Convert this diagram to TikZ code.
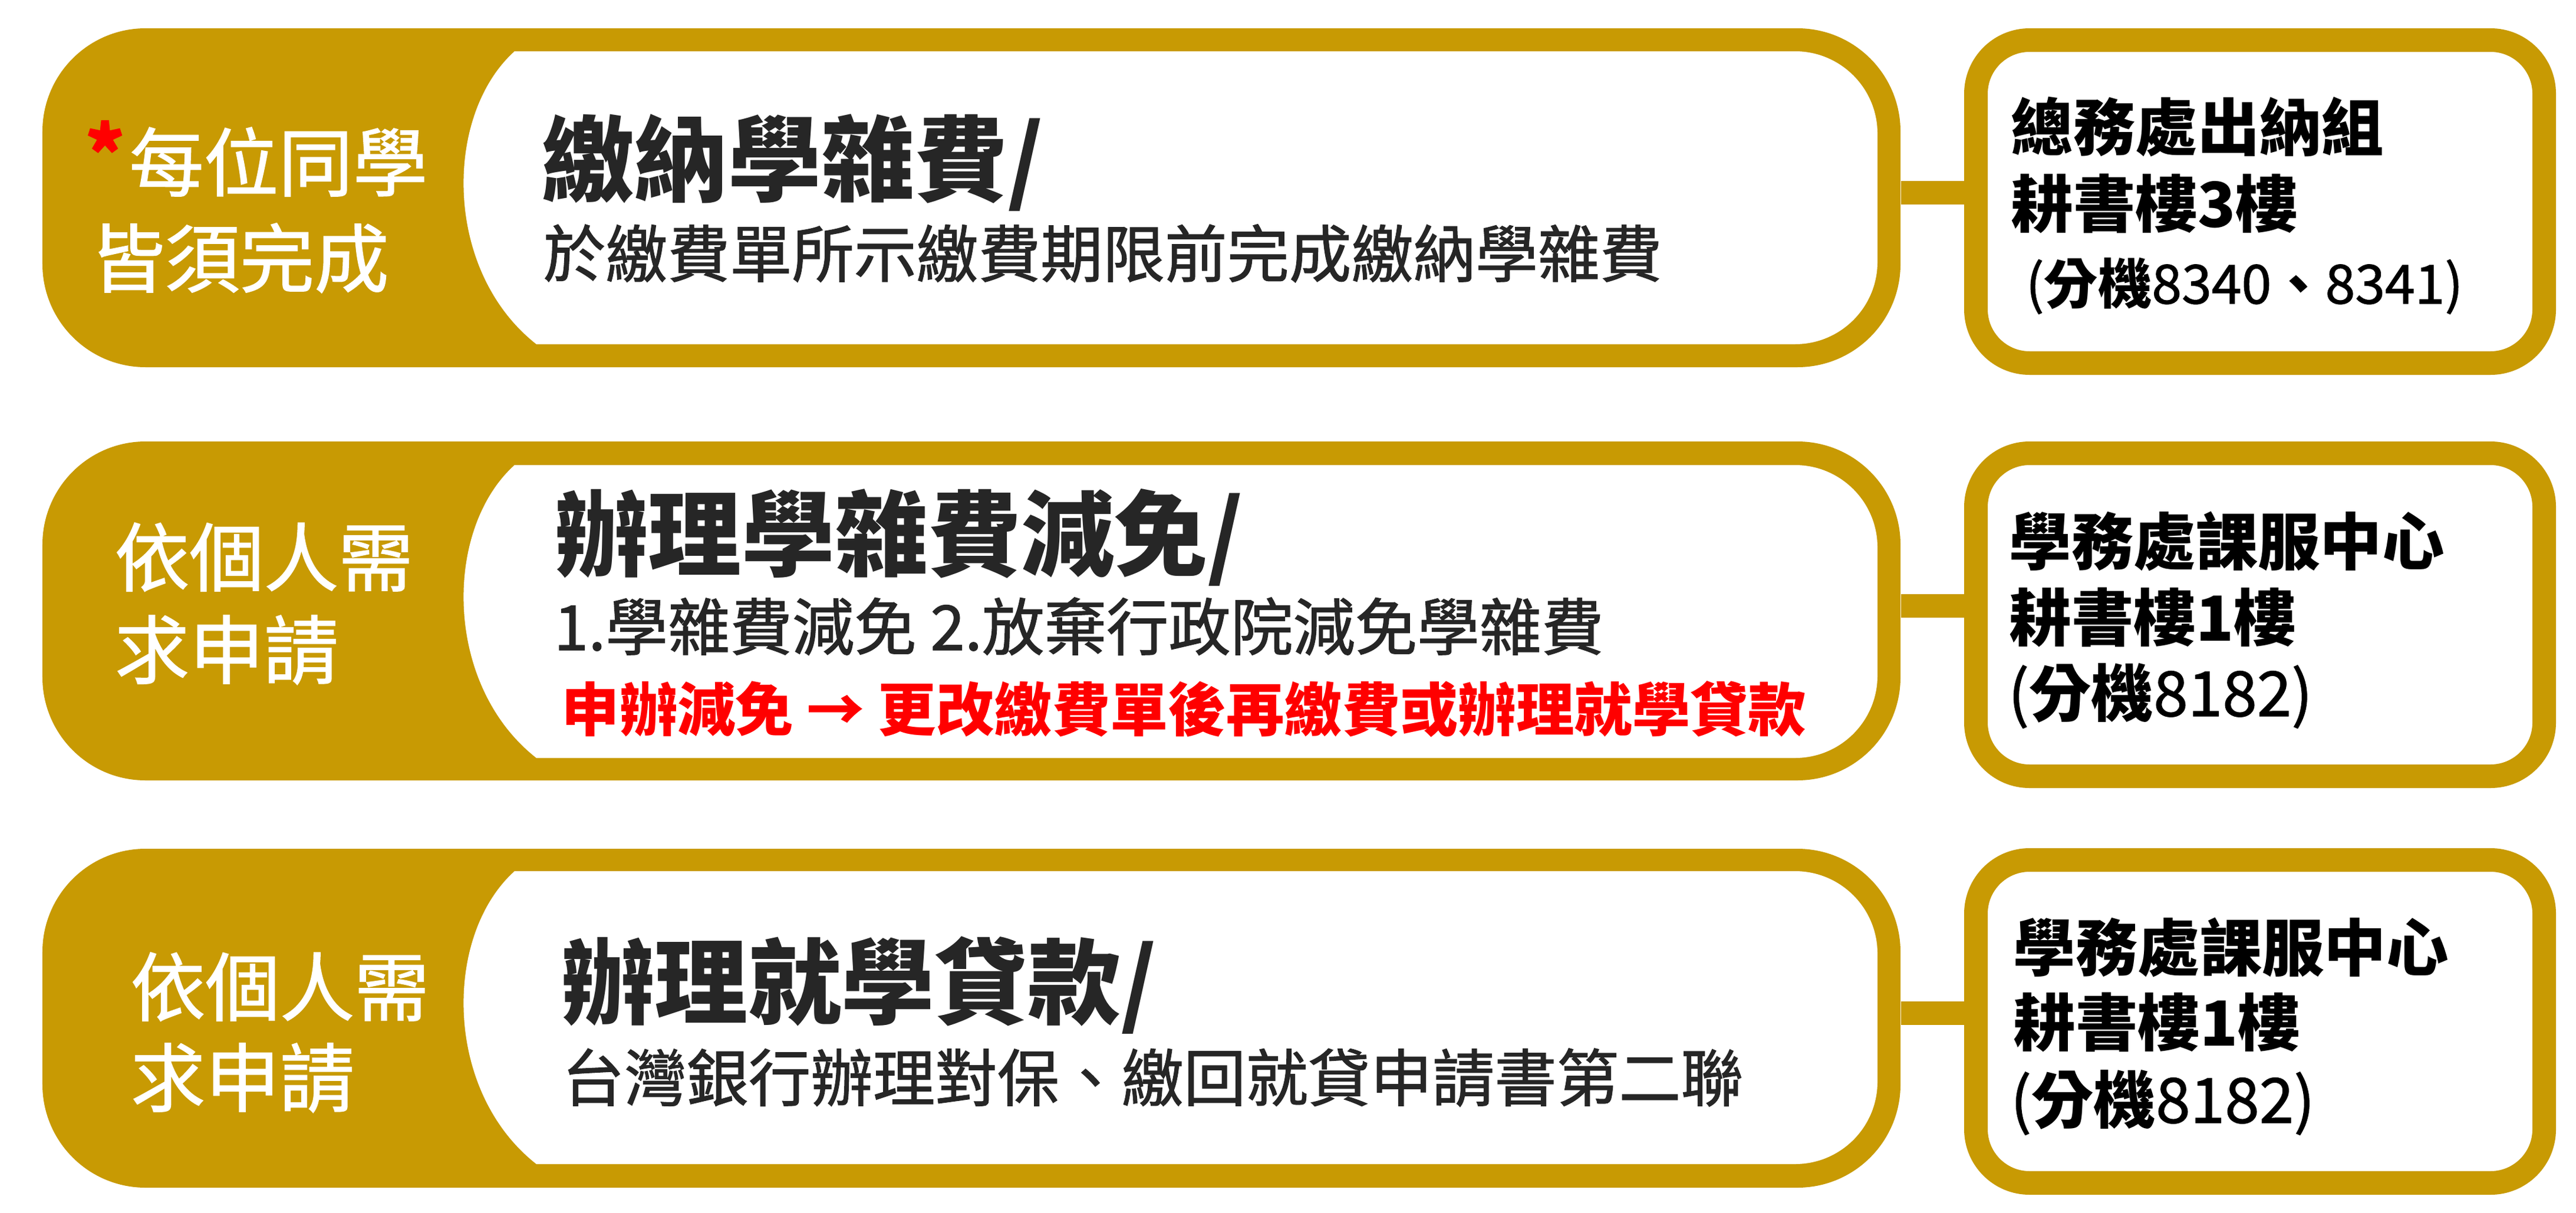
\documentclass[tikz,border=0pt]{standalone}
\usepackage{fontspec}
\setmainfont{Noto Sans CJK TC}
\newfontfamily\medfont[FakeBold=1.2]{Noto Sans CJK TC}
\newcommand{\num}[1]{{\medfont\mdseries #1}}
\definecolor{gold}{RGB}{200,154,3}
\definecolor{ink}{RGB}{38,38,38}

\begin{document}
\begin{tikzpicture}[x=1cm, y=-1cm,
    goldbar/.style={rectangle, rounded corners=1.75cm, fill=gold, minimum width=31.52cm, minimum height=5.75cm},
    infobox/.style={rectangle, rounded corners=0.91cm, draw=gold, line width=0.4cm, fill=white, minimum width=9.64cm, minimum height=5.48cm},
    goldlink/.style={draw=gold, line width=0.4cm},
    txt/.style={inner sep=0pt, anchor=base west},
    labtext/.style={txt, text=white, font=\fontsize{36}{36}\medfont},
    headtext/.style={txt, text=ink, font=\fontsize{45}{45}\selectfont\bfseries},
    subtext/.style={txt, text=ink, font=\fontsize{30}{30}\medfont},
    warntext/.style={txt, text=red, font=\fontsize{28}{28}\selectfont\bfseries},
    infotext/.style={txt, text=black, font=\fontsize{30}{30}\selectfont\bfseries}]
    \useasboundingbox (0,0) rectangle (43.70,20.58);

    \node[goldbar] (bar1) at (16.48,3.355) {};
    \fill[white] (8.73,0.87) [rounded corners=1.4cm] -- (31.85,0.87) -- (31.85,5.84) [sharp corners] -- (9.10,5.84) .. controls (7.52,4.60) and (7.52,1.96) .. (8.73,0.87) -- cycle;
    \node[infobox] (info1) at (38.34,3.42) {};
    \draw[goldlink] ([yshift=.09cm]bar1.east) -- ([yshift=.09cm]bar1.east -| info1.west);
    \node[labtext] (lab1a) at (1.44,3.23) {{\color{red}\raisebox{.12em}{\bfseries *}}\kern.06em 每位同學};
    \node[labtext] (lab1b) at (1.53,4.86) {皆須完成};
    \node[headtext] (head1) at (9.18,3.29) {繳納學雜費/};
    \node[subtext] (sub1) at (9.21,4.70) {於繳費單所示繳費期限前完成繳納學雜費};
    \node[infotext] (info1a) at (34.11,2.55) {總務處出納組};
    \node[infotext] (info1b) at (34.11,3.85) {耕書樓3樓};
    \node[infotext, font=\fontsize{26}{26}\selectfont\bfseries] (info1c) at (34.36,5.15) {\num{(}分機\num{8340}、\num{8341)}};

    \node[goldbar] (bar2) at (16.48,10.365) {};
    \fill[white] (8.73,7.89) [rounded corners=1.4cm] -- (31.85,7.89) -- (31.85,12.86) [sharp corners] -- (9.10,12.86) .. controls (7.52,11.62) and (7.52,8.98) .. (8.73,7.89) -- cycle;
    \node[infobox] (info2) at (38.34,10.43) {};
    \draw[goldlink] ([yshift=.09cm]bar2.east) -- ([yshift=.09cm]bar2.east -| info2.west);
    \node[labtext] (lab2a) at (1.94,9.93) {依個人需};
    \node[labtext] (lab2b) at (1.94,11.50) {求申請};
    \node[headtext] (head2) at (9.41,9.65) {辦理學雜費減免/};
    \node[subtext] (sub2) at (9.39,11.03) {1.學雜費減免 2.放棄行政院減免學雜費};
    \node[warntext] (warn2) at (9.52,12.40) {申辦減免 → 更改繳費單後再繳費或辦理就學貸款};
    \node[infotext] (info2a) at (34.08,9.58) {學務處課服中心};
    \node[infotext] (info2b) at (34.08,10.87) {耕書樓1樓};
    \node[infotext] (info2c) at (34.06,12.15) {\num{(}分機\num{8182)}};

    \node[goldbar] (bar3) at (16.48,17.275) {};
    \fill[white] (8.73,14.78) [rounded corners=1.4cm] -- (31.85,14.78) -- (31.85,19.75) [sharp corners] -- (9.10,19.75) .. controls (7.52,18.51) and (7.52,15.87) .. (8.73,14.78) -- cycle;
    \node[infobox] (info3) at (38.34,17.33) {};
    \draw[goldlink] ([yshift=.09cm]bar3.east) -- ([yshift=.09cm]bar3.east -| info3.west);
    \node[labtext] (lab3a) at (2.21,17.22) {依個人需};
    \node[labtext] (lab3b) at (2.21,18.76) {求申請};
    \node[headtext] (head3) at (9.52,17.25) {辦理就學貸款/};
    \node[subtext] (sub3) at (9.53,18.68) {台灣銀行辦理對保、繳回就貸申請書第二聯};
    \node[infotext] (info3a) at (34.15,16.47) {學務處課服中心};
    \node[infotext] (info3b) at (34.15,17.74) {耕書樓1樓};
    \node[infotext] (info3c) at (34.10,19.05) {\num{(}分機\num{8182)}};
\end{tikzpicture}
\end{document}
